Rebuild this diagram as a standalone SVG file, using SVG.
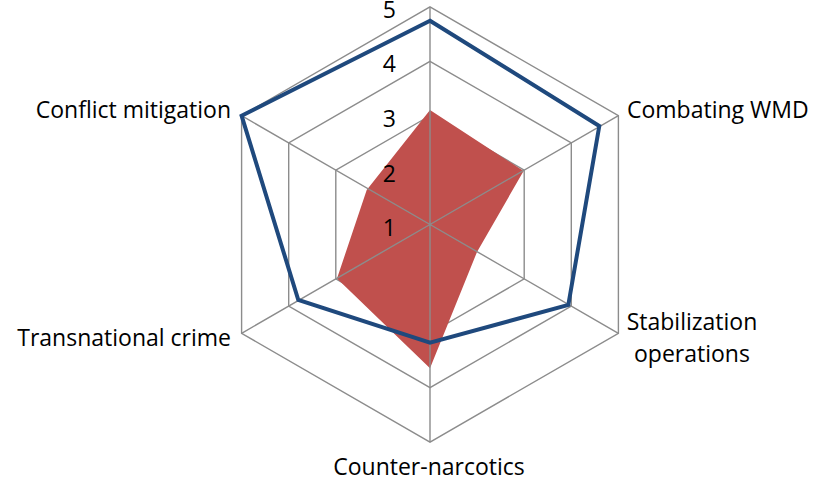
<svg xmlns="http://www.w3.org/2000/svg" width="824" height="483" viewBox="0 0 824 483">
<style>
.grid{fill:none;stroke:#8c8c8c;stroke-width:1.4}
.lbl{font-family:"Open Sans","Liberation Sans",sans-serif;font-size:23px;fill:#000}
</style>
<rect width="824" height="483" fill="#fff"/>
<g id="rings">
<polygon class="grid" points="430,6.9 618.4,115.7 618.4,333.3 430,442.1 241.6,333.3 241.6,115.7"/>
<polygon class="grid" points="430,61.3 571.3,142.9 571.3,306.1 430,387.7 288.7,306.1 288.7,142.9"/>
<polygon class="grid" points="430,115.7 524.2,170.1 524.2,278.9 430,333.3 335.8,278.9 335.8,170.1"/>
</g>
<g id="series-red">
<polygon points="430,110 523.6,171 477,252 430,368.3 337,278.5 366.7,190" fill="#c0504d"/>
</g>
<g id="spokes">
<path class="grid" d="M430,224.5V6.9M430,224.5L618.4,115.7M430,224.5L618.4,333.3M430,224.5V442.1M430,224.5L241.6,333.3M430,224.5L241.6,115.7"/>
</g>
<g id="series-blue">
<polygon points="430,20.7 599.3,126 568.3,305 430,342.7 298.3,300 241.6,115.7" fill="none" stroke="#1f497d" stroke-width="4" stroke-linejoin="miter"/>
</g>
<g id="axis-values" class="lbl" text-anchor="end">
<text x="396" y="17.5">5</text>
<text x="396" y="72">4</text>
<text x="396" y="126.7">3</text>
<text x="396" y="181.5">2</text>
<text x="396" y="236">1</text>
</g>
<g id="cat-conflict"><text class="lbl" x="231" y="118" text-anchor="end">Conflict mitigation</text></g>
<g id="cat-wmd"><text class="lbl" x="627" y="118">Combating WMD</text></g>
<g id="cat-stab"><text class="lbl" x="692" y="330" text-anchor="middle">Stabilization</text><text class="lbl" x="692" y="361.5" text-anchor="middle">operations</text></g>
<g id="cat-narco"><text class="lbl" x="429" y="475" text-anchor="middle">Counter-narcotics</text></g>
<g id="cat-crime"><text class="lbl" x="231" y="345.5" text-anchor="end">Transnational crime</text></g>
</svg>
